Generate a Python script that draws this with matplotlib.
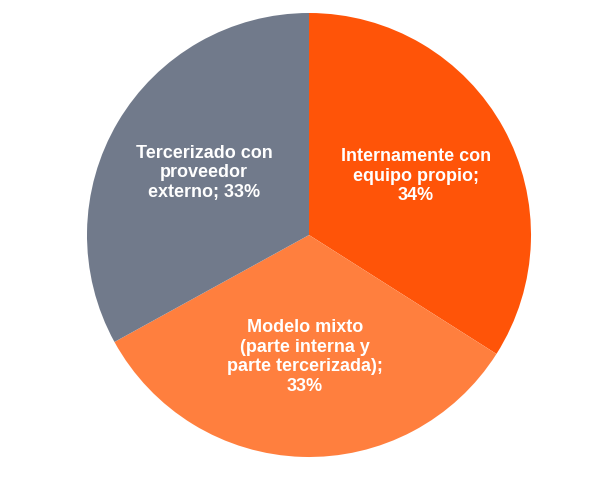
import matplotlib.pyplot as plt

labels = ["Internamente con\nequipo propio;\n34%",
          "Modelo mixto\n(parte interna y\nparte tercerizada);\n33%",
          "Tercerizado con\nproveedor\nexterno; 33%"]
values = [34, 33, 33]
colors = ["#FF5408", "#FF7F3E", "#717A8B"]

fig = plt.figure(figsize=(5.89, 4.97), dpi=100)
ax = fig.add_axes([0, 0, 1, 1])
wedges, texts = ax.pie(values, labels=labels, colors=colors, startangle=90,
                       counterclock=False, labeldistance=0.55, radius=1,
                       textprops=dict(color="white", fontsize=13, fontweight="bold",
                                      family="Liberation Sans"))
for t in texts:
    t.set_ha("center")
    t.set_va("center")
    t.set_multialignment("center")
ax.set_xlim(-309 / 222, 280 / 222)
ax.set_ylim(-262 / 222, 235 / 222)
ax.set_aspect("equal")
ax.axis("off")
fig.savefig("out.png", dpi=100)
